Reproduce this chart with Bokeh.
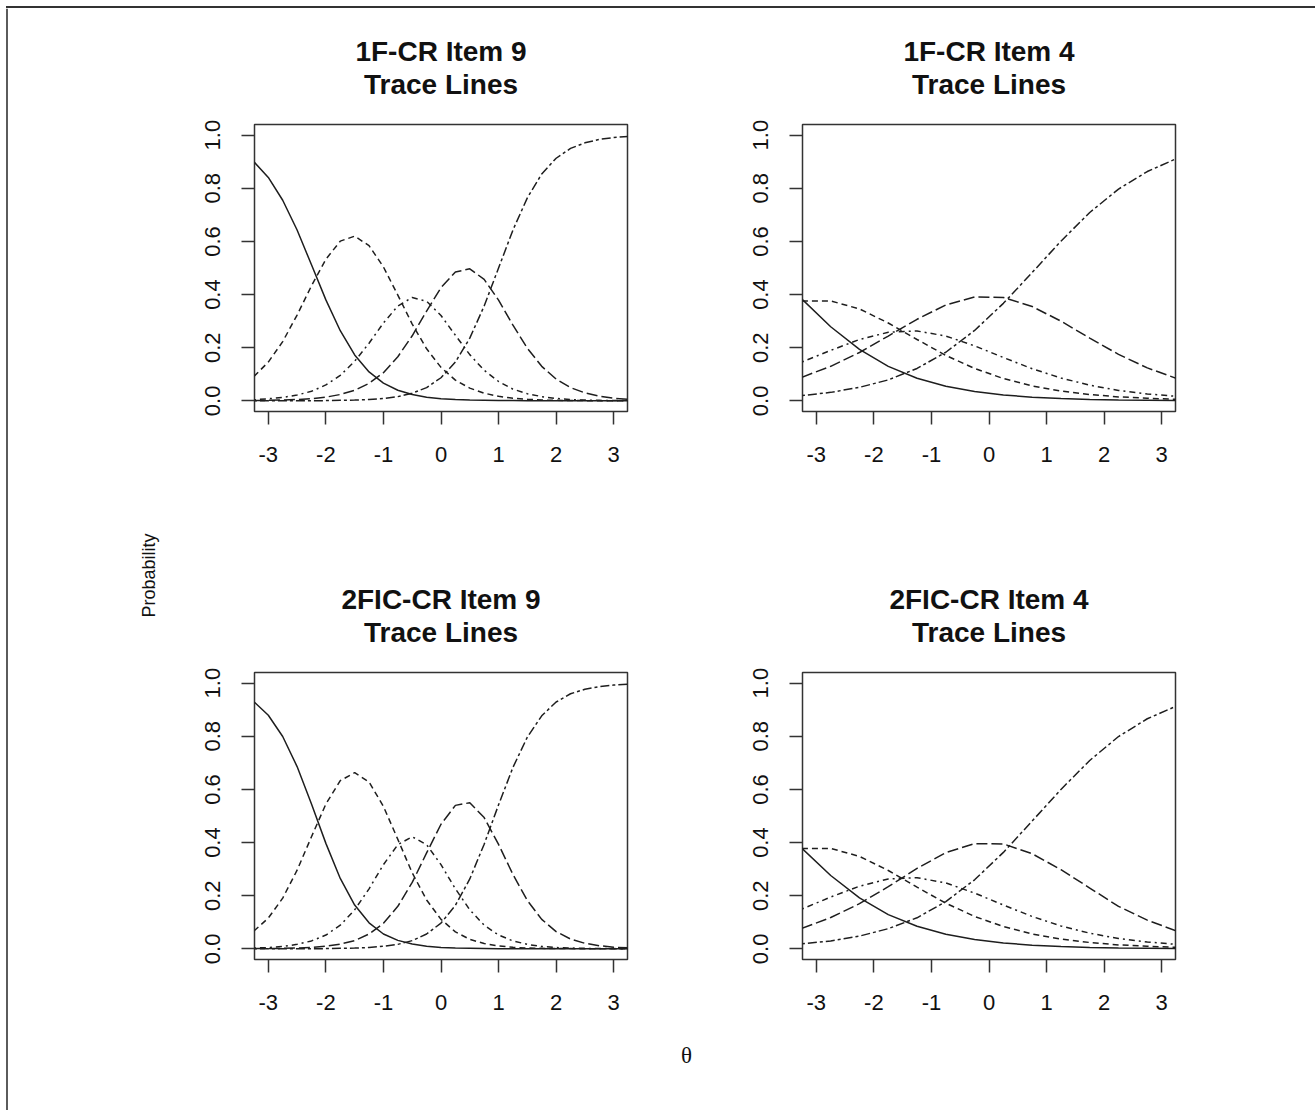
import math
from bokeh.plotting import figure
from bokeh.layouts import row, column
from bokeh.models import Range1d, FixedTicker, Title, PrintfTickFormatter, Div
from bokeh.core.properties import value
from bokeh.embed import file_html
from bokeh.resources import INLINE

# ---------------- data ----------------
theta_fine = [-3.25, -3.0, -2.75, -2.5, -2.25, -2.0, -1.75, -1.5, -1.25, -1.0, -0.75, -0.5, -0.25,
              0.0, 0.25, 0.5, 0.75, 1.0, 1.25, 1.5, 1.75, 2.0, 2.25, 2.5, 2.75, 3.0, 3.25]
theta_coarse = [-3.25, -2.75, -2.25, -1.75, -1.25, -0.75, -0.25, 0.25, 0.75, 1.25, 1.75, 2.25, 2.75, 3.25]

# 1F-CR Item 9
p1_cat0 = [0.900, 0.841, 0.755, 0.643, 0.512, 0.380, 0.264, 0.173, 0.109, 0.067, 0.040, 0.024, 0.014,
           0.008, 0.005, 0.003, 0.002, 0.001, 0.001, 0.000, 0.000, 0.000, 0.000, 0.000, 0.000, 0.000, 0.000]
p1_cat1 = [0.092, 0.146, 0.223, 0.323, 0.433, 0.533, 0.601, 0.620, 0.584, 0.504, 0.398, 0.289, 0.196,
           0.126, 0.078, 0.048, 0.029, 0.017, 0.010, 0.006, 0.003, 0.002, 0.001, 0.001, 0.000, 0.000, 0.000]
p1_cat2 = [0.004, 0.008, 0.013, 0.022, 0.036, 0.060, 0.096, 0.149, 0.217, 0.293, 0.357, 0.389, 0.375,
           0.321, 0.247, 0.174, 0.115, 0.073, 0.044, 0.027, 0.016, 0.009, 0.005, 0.003, 0.002, 0.001, 0.001]
p1_cat3 = [0.001, 0.002, 0.003, 0.005, 0.008, 0.014, 0.024, 0.040, 0.066, 0.106, 0.166, 0.245, 0.338,
           0.426, 0.485, 0.497, 0.457, 0.379, 0.285, 0.198, 0.130, 0.082, 0.050, 0.030, 0.018, 0.010, 0.006]
p1_cat4 = [0.000, 0.000, 0.000, 0.000, 0.000, 0.001, 0.002, 0.003, 0.005, 0.009, 0.016, 0.029, 0.050,
           0.087, 0.146, 0.236, 0.357, 0.500, 0.643, 0.764, 0.854, 0.913, 0.950, 0.971, 0.984, 0.991, 0.995]

# 1F-CR Item 4
p2_cat0 = [0.383, 0.279, 0.194, 0.130, 0.085, 0.055, 0.035, 0.022, 0.014, 0.009, 0.005, 0.003, 0.002, 0.001]
p2_cat1 = [0.376, 0.376, 0.346, 0.293, 0.231, 0.171, 0.122, 0.084, 0.056, 0.037, 0.024, 0.015, 0.010, 0.006]
p2_cat2 = [0.146, 0.190, 0.231, 0.258, 0.263, 0.244, 0.207, 0.163, 0.121, 0.086, 0.059, 0.039, 0.026, 0.017]
p2_cat3 = [0.089, 0.130, 0.182, 0.244, 0.307, 0.361, 0.391, 0.389, 0.355, 0.300, 0.236, 0.175, 0.124, 0.085]
p2_cat4 = [0.020, 0.032, 0.051, 0.079, 0.122, 0.183, 0.265, 0.367, 0.483, 0.601, 0.709, 0.797, 0.863, 0.911]

# 2FIC-CR Item 9
p3_cat0 = [0.930, 0.879, 0.799, 0.686, 0.545, 0.397, 0.265, 0.165, 0.098, 0.056, 0.032, 0.018, 0.010,
           0.005, 0.003, 0.002, 0.001, 0.000, 0.000, 0.000, 0.000, 0.000, 0.000, 0.000, 0.000, 0.000, 0.000]
p3_cat1 = [0.067, 0.116, 0.191, 0.296, 0.422, 0.545, 0.633, 0.663, 0.628, 0.536, 0.412, 0.286, 0.184,
           0.111, 0.064, 0.036, 0.020, 0.011, 0.006, 0.003, 0.002, 0.001, 0.001, 0.000, 0.000, 0.000, 0.000]
p3_cat2 = [0.003, 0.005, 0.009, 0.017, 0.030, 0.052, 0.089, 0.147, 0.226, 0.317, 0.392, 0.422, 0.392,
           0.317, 0.226, 0.147, 0.089, 0.052, 0.030, 0.017, 0.009, 0.005, 0.003, 0.002, 0.001, 0.001, 0.000]
p3_cat3 = [0.001, 0.001, 0.002, 0.003, 0.005, 0.010, 0.018, 0.031, 0.056, 0.096, 0.160, 0.250, 0.361,
           0.469, 0.540, 0.550, 0.494, 0.393, 0.280, 0.182, 0.111, 0.065, 0.037, 0.021, 0.012, 0.006, 0.004]
p3_cat4 = [0.000, 0.000, 0.000, 0.000, 0.000, 0.001, 0.002, 0.003, 0.005, 0.010, 0.017, 0.031, 0.056,
           0.097, 0.164, 0.263, 0.394, 0.542, 0.683, 0.797, 0.877, 0.929, 0.960, 0.977, 0.987, 0.993, 0.996]

# 2FIC-CR Item 4
p4_cat0 = [0.378, 0.276, 0.192, 0.129, 0.085, 0.055, 0.035, 0.022, 0.014, 0.009, 0.005, 0.003, 0.002, 0.001]
p4_cat1 = [0.378, 0.378, 0.348, 0.295, 0.232, 0.172, 0.122, 0.084, 0.056, 0.037, 0.024, 0.015, 0.010, 0.006]
p4_cat2 = [0.150, 0.195, 0.236, 0.263, 0.268, 0.248, 0.210, 0.165, 0.122, 0.086, 0.059, 0.039, 0.026, 0.017]
p4_cat3 = [0.077, 0.118, 0.170, 0.234, 0.303, 0.362, 0.396, 0.395, 0.358, 0.298, 0.229, 0.160, 0.108, 0.068]
p4_cat4 = [0.019, 0.030, 0.048, 0.076, 0.117, 0.178, 0.260, 0.363, 0.481, 0.600, 0.709, 0.799, 0.866, 0.913]

panel_titles = [["1F-CR Item 9", "Trace Lines"], ["1F-CR Item 4", "Trace Lines"],
                ["2FIC-CR Item 9", "Trace Lines"], ["2FIC-CR Item 4", "Trace Lines"]]
x_ticks = [-3, -2, -1, 0, 1, 2, 3]
y_ticks = [0.0, 0.2, 0.4, 0.6, 0.8, 1.0]
y_label = "Probability"
x_label = "\u03b8"

# ---------------- styles ----------------
DASHES = ["solid", "6 4", "2 4 6 4", "11 4", "3 3 9 3"]
INK = "#1e1e1e"
FONT = "Liberation Sans"


def make_panel(titles, theta, curves, width, height, right, bottom):
    p = figure(width=width, height=height, x_range=Range1d(-3.24, 3.24), y_range=Range1d(-0.04, 1.04),
               output_backend="svg", toolbar_location=None, title=None,
               min_border_left=84, min_border_right=right, min_border_top=116, min_border_bottom=bottom)
    p.add_layout(Title(text=titles[1], align="center", text_font_size="28px", text_font=FONT,
                       text_font_style="bold", text_color="#111111", standoff=49), "above")
    p.add_layout(Title(text=titles[0], align="center", text_font_size="28px", text_font=FONT,
                       text_font_style="bold", text_color="#111111", standoff=-49), "above")
    p.grid.visible = False
    p.outline_line_color = "#333333"
    p.outline_line_width = 1.5
    p.background_fill_color = "white"
    p.border_fill_color = "white"
    p.xaxis.ticker = FixedTicker(ticks=x_ticks)
    p.xaxis.formatter = PrintfTickFormatter(format="%d")
    p.yaxis.ticker = FixedTicker(ticks=y_ticks)
    p.yaxis.formatter = PrintfTickFormatter(format="%.1f")
    p.yaxis.major_label_orientation = "vertical"
    for ax in (p.xaxis[0], p.yaxis[0]):
        ax.axis_line_color = None
        ax.minor_tick_line_color = None
        ax.major_tick_in = 0
        ax.major_tick_out = 13
        ax.major_tick_line_color = "#333333"
        ax.major_tick_line_width = 1.5
        ax.major_label_text_font = FONT
        ax.major_label_text_font_size = "22px"
        ax.major_label_text_color = "#111111"
    p.xaxis.major_label_standoff = 22
    p.yaxis.major_label_standoff = 21
    for vals, dash in zip(curves, DASHES):
        p.line(theta, vals, line_color=INK, line_width=1.5, line_dash=dash)
    return p


p1 = make_panel(panel_titles[0], theta_fine, [p1_cat0, p1_cat1, p1_cat2, p1_cat3, p1_cat4], 548, 548, 91, 145)
p2 = make_panel(panel_titles[1], theta_coarse, [p2_cat0, p2_cat1, p2_cat2, p2_cat3, p2_cat4], 597, 548, 140, 145)
p3 = make_panel(panel_titles[2], theta_fine, [p3_cat0, p3_cat1, p3_cat2, p3_cat3, p3_cat4], 548, 469, 91, 66)
p4 = make_panel(panel_titles[3], theta_coarse, [p4_cat0, p4_cat1, p4_cat2, p4_cat3, p4_cat4], 597, 469, 140, 66)


def blank(width, height):
    f = figure(width=width, height=height, x_range=Range1d(0, width), y_range=Range1d(0, height),
               output_backend="svg", toolbar_location=None, min_border=0,
               x_axis_type=None, y_axis_type=None, title=None)
    f.grid.visible = False
    f.outline_line_color = None
    f.background_fill_color = "white"
    f.border_fill_color = "white"
    return f


# top border of the whole picture
top = Div(text="", width=1309, height=2, margin=(6, 0, 0, 6),
          styles={"background-color": "#333333", "overflow": "hidden"})

# left strip: shared y label and border
left = blank(170, 1102)
left.segment(x0=[6.5], y0=[0], x1=[6.5], y1=[1102], line_color="#333333", line_width=1.6)
left.text(x=[148], y=[1102 - 567], text=[y_label], angle=math.pi / 2, text_align="center",
          text_baseline="middle", text_font=value(FONT), text_font_size="18px", text_color="#111111")

# bottom strip: shared x label
bottom = blank(1145, 85)
bottom.text(x=[516], y=[85 - 30], text=[x_label], text_align="center", text_baseline="middle",
            text_font=value("Liberation Serif"), text_font_size="23px", text_color="#111111")

layout = column(top, row(left, column(row(p1, p2), row(p3, p4), bottom)))

open("out.html", "w").write(file_html(layout, INLINE))
